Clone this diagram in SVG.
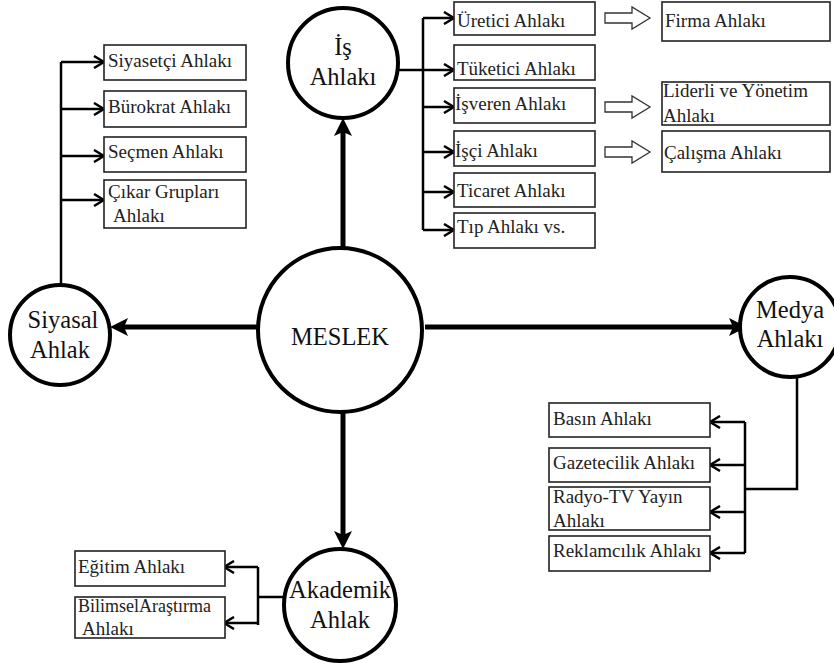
<svg xmlns="http://www.w3.org/2000/svg" width="834" height="668" viewBox="0 0 834 668">
<style>
.box{fill:#fff;stroke:#222;stroke-width:1.6}
.t{font-family:"Liberation Serif","Times New Roman",Times,"DejaVu Serif",serif;font-size:19px;fill:#222}
.c{fill:#fff;stroke:#000;stroke-width:4}
.ct{font-family:"Liberation Serif","Times New Roman",Times,"DejaVu Serif",serif;font-size:24.5px;fill:#111;text-anchor:middle}
.thin{fill:none;stroke:#000;stroke-width:2.5}
.br{fill:none;stroke:#000;stroke-width:2.5;marker-end:url(#chev)}
.main{fill:none;stroke:#000;stroke-width:5;marker-end:url(#tri)}
.hollow{fill:#fff;stroke:#333;stroke-width:1.3}
</style>
<defs>
<marker id="chev" viewBox="0 0 12 14" refX="11" refY="7" markerWidth="12" markerHeight="14" markerUnits="userSpaceOnUse" orient="auto">
<path d="M1,1 L11,7 L1,13" fill="none" stroke="#000" stroke-width="2.5"/>
</marker>
<marker id="tri" viewBox="0 0 18 18" refX="8" refY="9" markerWidth="18" markerHeight="18" markerUnits="userSpaceOnUse" orient="auto">
<path d="M0,0 L18,9 L0,18 L4,9 z" fill="#000"/>
</marker>
</defs>
<rect width="834" height="668" fill="#fff"/>

<g id="connectors">
<path class="main" d="M258,327 H120"/>
<path class="main" d="M425,327 H737"/>
<path class="main" d="M343,247 V128"/>
<path class="main" d="M343,412 V539"/>
<path class="thin" d="M61,285 V62"/>
<path class="br" d="M61,62 H104"/>
<path class="br" d="M61,109 H104"/>
<path class="br" d="M61,156 H104"/>
<path class="br" d="M61,200 H104"/>
<path class="thin" d="M398,70 H423"/>
<path class="thin" d="M423,18 V230"/>
<path class="br" d="M423,18 H454"/>
<path class="br" d="M423,70 H454"/>
<path class="br" d="M423,107 H454"/>
<path class="br" d="M423,152 H454"/>
<path class="br" d="M423,192 H454"/>
<path class="br" d="M423,230 H454"/>
<path class="thin" d="M797,377 V489 H745"/>
<path class="thin" d="M745,422 V553"/>
<path class="br" d="M745,422 H710"/>
<path class="br" d="M745,465 H710"/>
<path class="br" d="M745,512 H710"/>
<path class="br" d="M745,553 H710"/>
<path class="thin" d="M284,597 H258"/>
<path class="thin" d="M258,567 V625"/>
<path class="br" d="M258,567 H224"/>
<path class="br" d="M258,623 H224"/>
<polygon class="hollow" points="605,13 632,13 632,7 650,18 632,29 632,23 605,23"/>
<polygon class="hollow" points="605,102 632,102 632,96 650,107 632,118 632,112 605,112"/>
<polygon class="hollow" points="605,147 632,147 632,141 650,152 632,163 632,157 605,157"/>
</g>

<g id="meslek"><circle class="c" cx="340" cy="330" r="82"/><text class="ct" x="340" y="345">MESLEK</text></g>
<g id="siyasal"><circle class="c" cx="60" cy="335" r="50"/><text class="ct" x="63" y="328">Siyasal</text><text class="ct" x="60" y="358">Ahlak</text></g>
<g id="medya"><circle class="c" cx="790" cy="327" r="50"/><text class="ct" x="790" y="318">Medya</text><text class="ct" x="790" y="347">Ahlakı</text></g>
<g id="is"><circle class="c" cx="343" cy="63" r="55"/><text class="ct" x="343" y="55">İş</text><text class="ct" x="343" y="85">Ahlakı</text></g>
<g id="akademik"><circle class="c" cx="340" cy="605" r="56"/><text class="ct" x="340" y="598">Akademik</text><text class="ct" x="340" y="628">Ahlak</text></g>

<g id="siyasetci"><rect class="box" x="104" y="45" width="142" height="35"/><text class="t" x="108" y="67">Siyasetçi Ahlakı</text></g>
<g id="burokrat"><rect class="box" x="104" y="91" width="142" height="36"/><text class="t" x="108" y="113">Bürokrat Ahlakı</text></g>
<g id="secmen"><rect class="box" x="104" y="137" width="142" height="35"/><text class="t" x="108" y="158">Seçmen Ahlakı</text></g>
<g id="cikar"><rect class="box" x="104" y="180" width="142" height="48"/><text class="t" x="108" y="198">Çıkar Grupları</text><text class="t" x="113" y="222">Ahlakı</text></g>

<g id="uretici"><rect class="box" x="454" y="2" width="141" height="33"/><text class="t" x="457" y="27">Üretici Ahlakı</text></g>
<g id="tuketici"><rect class="box" x="454" y="45" width="141" height="35"/><text class="t" x="457" y="75">Tüketici Ahlakı</text></g>
<g id="isveren"><rect class="box" x="454" y="88" width="141" height="35"/><text class="t" x="455" y="110">İşveren Ahlakı</text></g>
<g id="isci"><rect class="box" x="454" y="131" width="141" height="35"/><text class="t" x="455" y="157">İşçi Ahlakı</text></g>
<g id="ticaret"><rect class="box" x="454" y="173" width="141" height="34"/><text class="t" x="457" y="197">Ticaret Ahlakı</text></g>
<g id="tip"><rect class="box" x="454" y="213" width="141" height="35"/><text class="t" x="457" y="233">Tıp Ahlakı vs.</text></g>

<g id="firma"><rect class="box" x="662" y="2" width="168" height="39"/><text class="t" x="665" y="27">Firma Ahlakı</text></g>
<g id="liderli"><rect class="box" x="662" y="82" width="168" height="43"/><text class="t" x="663" y="97">Liderli ve Yönetim</text><text class="t" x="663" y="122">Ahlakı</text></g>
<g id="calisma"><rect class="box" x="662" y="131" width="168" height="41"/><text class="t" x="664" y="159">Çalışma Ahlakı</text></g>

<g id="basin"><rect class="box" x="549" y="403" width="161" height="34"/><text class="t" x="553" y="425">Basın Ahlakı</text></g>
<g id="gazetecilik"><rect class="box" x="549" y="448" width="161" height="34"/><text class="t" x="553" y="469">Gazetecilik Ahlakı</text></g>
<g id="radyo"><rect class="box" x="549" y="487" width="161" height="43"/><text class="t" x="553" y="503">Radyo-TV Yayın</text><text class="t" x="553" y="527">Ahlakı</text></g>
<g id="reklam"><rect class="box" x="549" y="536" width="161" height="35"/><text class="t" x="553" y="557">Reklamcılık Ahlakı</text></g>

<g id="egitim"><rect class="box" x="75" y="551" width="150" height="35"/><text class="t" x="78" y="573">Eğitim Ahlakı</text></g>
<g id="bilimsel"><rect class="box" x="75" y="597" width="150" height="41"/><text class="t" x="78" y="612" style="font-size:18px">BilimselAraştırma</text><text class="t" x="82" y="635">Ahlakı</text></g>
</svg>
